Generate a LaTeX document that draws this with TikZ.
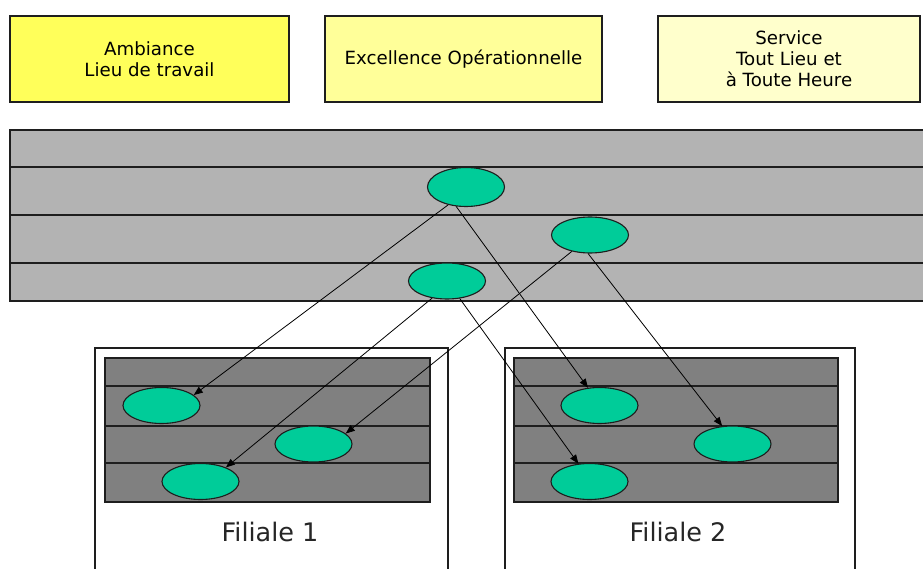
\documentclass[tikz,border=0pt]{standalone}
\usepackage{fontspec}
\setmainfont{DejaVu Sans}
\usetikzlibrary{shapes.geometric,arrows.meta}
\definecolor{boxA}{RGB}{255,255,90}
\definecolor{boxB}{RGB}{255,255,153}
\definecolor{boxC}{RGB}{255,255,204}
\definecolor{bandlight}{RGB}{179,179,179}
\definecolor{banddark}{RGB}{128,128,128}
\definecolor{token}{RGB}{0,204,153}
\definecolor{edge}{RGB}{30,30,30}
\tikzset{
  theme/.style={draw=edge, line width=1.8pt, minimum height=86pt, align=center,
                font=\fontsize{18.2}{21}\selectfont, inner sep=0pt},
  token/.style={ellipse, draw=edge, line width=1.1pt, fill=token,
                minimum width=77pt, minimum height=36pt, inner sep=0pt},
  flow/.style={-{Triangle[length=9pt,width=7pt]}, line width=0.8pt, black},
  lane/.style={draw=edge, line width=2pt},
  site/.style={draw=edge, line width=1.8pt},
  sitelabel/.style={font=\fontsize{25.5}{27}\selectfont, text=black!85}
}
\begin{document}
\begin{tikzpicture}[x=1pt,y=-1pt]
\useasboundingbox (0,0) rectangle (923,569);
\fill[white] (0,0) rectangle (923,569);

% three themes across the top
\node[theme, fill=boxA, minimum width=279pt] (ambiance) at (149.5,59) {Ambiance\\Lieu de travail};
\node[theme, fill=boxB, minimum width=277pt] (excellence) at (463.5,59) {Excellence Opérationnelle};
\node[theme, fill=boxC, minimum width=262pt] (service) at (789,59) {Service\\Tout Lieu et\\à Toute Heure};

% group-level swimlanes (open to the right)
\fill[bandlight] (10,130) rectangle (923,301);
\draw[lane] (923,130) -- (10,130) -- (10,301) -- (923,301);
\foreach \y in {167.5,215.5,263.5} \draw[lane] (10,\y) -- (923,\y);

% subsidiary frames (open at the bottom)
\draw[site] (95,569) -- (95,348) -- (448,348) -- (448,569);
\draw[site] (505,569) -- (505,348) -- (855,348) -- (855,569);

% subsidiary swimlanes
\filldraw[banddark, draw=edge, line width=2pt] (105,358) rectangle (430,502);
\foreach \y in {386,426,463} \draw[lane] (105,\y) -- (430,\y);
\filldraw[banddark, draw=edge, line width=2pt] (514,358) rectangle (838,502);
\foreach \y in {386,426,463} \draw[lane] (514,\y) -- (838,\y);

\node[sitelabel] (filiale1) at (270,532) {Filiale 1};
\node[sitelabel] (filiale2) at (678,532) {Filiale 2};

% group-level activities
\node[token, minimum height=39pt] (g1) at (466,187) {};
\node[token] (g2) at (590,235) {};
\node[token] (g3) at (447,281) {};

% subsidiary activities
\node[token] (a1) at (161.5,405.5) {};
\node[token] (a2) at (313.5,444) {};
\node[token] (a3) at (200.5,481.5) {};
\node[token] (b1) at (599.5,405.5) {};
\node[token] (b2) at (732.5,444) {};
\node[token] (b3) at (589.5,481.5) {};

% deployment of group activities to the subsidiaries
\draw[flow] (g1.225) -- (a1.18);
\draw[flow] (g1.243) -- (b1.123);
\draw[flow] (g2.222) -- (a2.18);
\draw[flow] (g2.264) -- (b2.120);
\draw[flow] (g3.229) -- (a3.29);
\draw[flow] (g3.306) -- (b3.122);
\end{tikzpicture}
\end{document}
